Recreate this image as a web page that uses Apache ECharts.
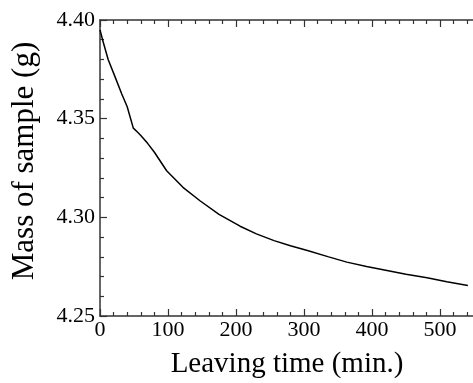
<!DOCTYPE html>
<html>
<head>
<meta charset="utf-8">
<script src="https://cdn.jsdelivr.net/npm/echarts@6/dist/echarts.min.js"></script>
<style>
  html, body { margin: 0; padding: 0; background: #fff; }
  #chart { width: 473px; height: 383px; }
</style>
</head>
<body>
<div id="chart"></div>
<script>
// leaving time (min.) and mass of sample (g)
var times = [0, 5, 12, 22, 32, 40, 49, 55, 60, 70, 80, 98, 122, 147, 175, 206, 230, 256, 280, 305, 335, 363, 392, 422, 450, 481, 510, 541];
var masses = [4.395, 4.3885, 4.380, 4.3713, 4.3625, 4.356, 4.3452, 4.3432, 4.3415, 4.3375, 4.3330, 4.3236, 4.3152, 4.3084, 4.3015, 4.2955, 4.2916, 4.2882, 4.2856, 4.2832, 4.2801, 4.2773, 4.2751, 4.2731, 4.2712, 4.2694, 4.2674, 4.2654];

var xLabel = 'Leaving time (min.)';
var yLabel = 'Mass of sample (g)';

var chart = echarts.init(document.getElementById('chart'));

var fontFamily = 'Liberation Serif';
var axisColor = '#333';

var seriesData = times.map(function (t, i) { return [t, masses[i]]; });

var option = {
  animation: false,
  grid: { left: 100, right: -1, top: 20, bottom: 67, containLabel: false, outerBoundsMode: 'none' },
  xAxis: [{
    type: 'value',
    position: 'bottom',
    min: 0,
    max: 550,
    interval: 100,
    name: xLabel,
    nameLocation: 'middle',
    nameGap: 34,
    nameTextStyle: { fontFamily: fontFamily, fontSize: 29, color: '#000' },
    axisLine: { show: true, onZero: false, lineStyle: { color: axisColor, width: 1.5 } },
    axisTick: { show: true, inside: true, length: 7, lineStyle: { color: axisColor, width: 1.2 } },
    minorTick: { show: true, splitNumber: 5, length: 4, lineStyle: { color: axisColor, width: 1.2 } },
    axisLabel: {
      fontFamily: fontFamily, fontSize: 22, color: '#000', margin: 3,
      formatter: function (v) { return v > 540 ? '' : v; }
    },
    splitLine: { show: false }
  }, {
    type: 'value',
    position: 'top',
    min: 0,
    max: 550,
    interval: 100,
    axisLine: { show: true, onZero: false, lineStyle: { color: axisColor, width: 1.5 } },
    axisTick: { show: true, inside: true, length: 7, lineStyle: { color: axisColor, width: 1.2 } },
    minorTick: { show: true, splitNumber: 5, length: 4, lineStyle: { color: axisColor, width: 1.2 } },
    axisLabel: { show: false },
    splitLine: { show: false }
  }],
  yAxis: {
    type: 'value',
    min: 4.25,
    max: 4.40,
    interval: 0.05,
    name: yLabel,
    nameLocation: 'middle',
    nameGap: 60,
    nameRotate: 90,
    nameTextStyle: { fontFamily: fontFamily, fontSize: 31, color: '#000', padding: [0, 0, 0, 14] },
    axisLine: { show: true, lineStyle: { color: axisColor, width: 1.5 } },
    axisTick: { show: true, inside: true, length: 7, lineStyle: { color: axisColor, width: 1.2 } },
    minorTick: { show: true, splitNumber: 5, length: 4, lineStyle: { color: axisColor, width: 1.2 } },
    axisLabel: {
      fontFamily: fontFamily, fontSize: 22, color: '#000', margin: 5,
      formatter: function (v) { return v.toFixed(2); }
    },
    splitLine: { show: false }
  },
  series: [{
    type: 'line',
    xAxisIndex: 0,
    data: seriesData,
    symbol: 'none',
    smooth: false,
    lineStyle: { color: '#000', width: 1.5 }
  }]
};

chart.setOption(option);
</script>
</body>
</html>
